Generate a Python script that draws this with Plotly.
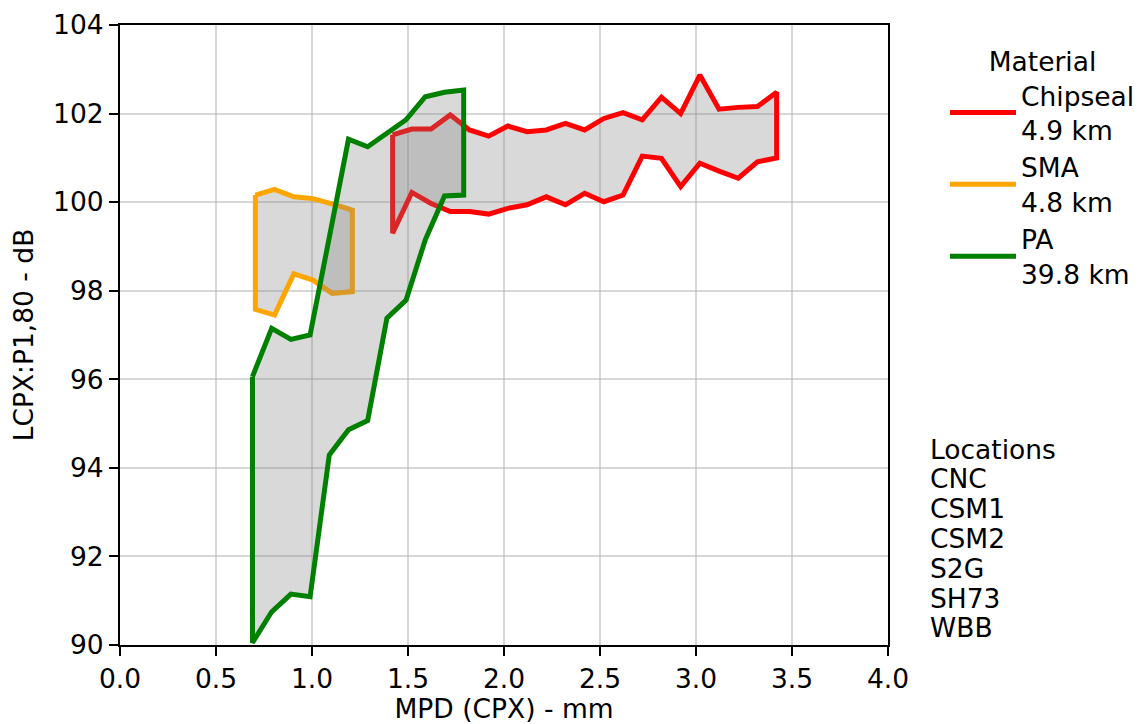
import plotly.graph_objects as go

# Texture depth (MPD) vs. CPX level envelopes per surface material
chip_x = [1.42, 1.52, 1.62, 1.72, 1.82, 1.92, 2.02, 2.12, 2.22, 2.32, 2.42,
          2.52, 2.62, 2.72, 2.82, 2.92, 3.02, 3.12, 3.22, 3.32, 3.42]
chip_upper = [101.52, 101.65, 101.65, 101.97, 101.63, 101.49, 101.72, 101.59,
              101.63, 101.78, 101.63, 101.89, 102.02, 101.86, 102.37, 102.00,
              102.87, 102.10, 102.14, 102.16, 102.48]
chip_lower = [99.30, 100.22, 99.97, 99.79, 99.79, 99.73, 99.86, 99.94,
              100.12, 99.94, 100.20, 100.01, 100.16, 101.04, 100.99, 100.35,
              100.88, 100.70, 100.54, 100.91, 101.00]

sma_x = [0.705, 0.805, 0.905, 1.005, 1.105, 1.21]
sma_upper = [100.16, 100.29, 100.12, 100.08, 99.96, 99.82]
sma_lower = [97.58, 97.45, 98.38, 98.24, 97.94, 97.98]

pa_x = [0.69, 0.79, 0.89, 0.99, 1.09, 1.19, 1.29, 1.39, 1.49, 1.59, 1.69, 1.79]
pa_upper = [96.06, 97.15, 96.90, 97.00, 99.20, 101.42, 101.25, 101.55,
            101.86, 102.38, 102.48, 102.53]
pa_lower = [90.05, 90.75, 91.15, 91.09, 94.29, 94.86, 95.07, 97.38,
            97.79, 99.15, 100.14, 100.16]

materials = ["Chipseal", "SMA", "PA"]
lengths_km = [4.9, 4.8, 39.8]
colors = ["#ff0000", "#ffa500", "#008000"]
locations = ["CNC", "CSM1", "CSM2", "S2G", "SH73", "WBB"]

series = [(chip_x, chip_upper, chip_lower),
          (sma_x, sma_upper, sma_lower),
          (pa_x, pa_upper, pa_lower)]

FONT = "DejaVu Sans"
FS = 26.5

# figure / plot-area geometry (px); the right-hand side is kept inside the
# paper so the legend never pushes the margin
W, H = 1142, 724
ML, MR, MT, MB = 120, 0, 25, 79
PLOT_RIGHT = 888
PAPER_W = W - ML - MR
PLOT_H = H - MT - MB
X_DOMAIN_END = (PLOT_RIGHT - ML) / PAPER_W


def paper_x(px):
    return (px - ML) / PAPER_W


def paper_y(py):
    return (H - MB - py) / PLOT_H


fig = go.Figure()

for name, km, col, (xs, up, lo) in zip(materials, lengths_km, colors, series):
    # closed envelope: upper edge left->right, lower edge right->left
    px = list(xs) + list(xs[::-1]) + [xs[0]]
    py = list(up) + list(lo[::-1]) + [up[0]]
    fig.add_trace(go.Scatter(
        x=px, y=py, mode="lines", fill="toself",
        fillcolor="rgba(128,128,128,0.3)",
        line=dict(color=col, width=5),
        showlegend=False, hoverinfo="skip",
    ))

for name, km, col in zip(materials, lengths_km, colors):
    fig.add_trace(go.Scatter(
        x=[None], y=[None], mode="lines",
        line=dict(color=col, width=5),
        name=f"{name}<br>{km} km",
    ))

# "Locations" text block beside the plot, one line per annotation
loc_lines = ["Locations"] + locations
LINE_PX = 29.8
first_line_px = 449
for i, txt in enumerate(loc_lines):
    fig.add_annotation(
        xref="paper", yref="paper", x=paper_x(928),
        y=paper_y(first_line_px + i * LINE_PX),
        xanchor="left", yanchor="middle", align="left", showarrow=False,
        text=txt, font=dict(family=FONT, size=FS, color="black"),
    )

axis_common = dict(
    showline=True, mirror=True, linecolor="black", linewidth=2,
    ticks="outside", ticklen=9, tickwidth=2, tickcolor="black",
    showgrid=True, gridcolor="rgba(176,176,176,0.5)", gridwidth=2,
    zeroline=False, automargin=False,
    tickfont=dict(family=FONT, size=FS, color="black"),
)

fig.update_layout(
    width=W, height=H,
    margin=dict(l=ML, r=MR, t=MT, b=MB),
    paper_bgcolor="white", plot_bgcolor="white",
    font=dict(family=FONT, size=FS, color="black"),
    xaxis=dict(domain=[0, X_DOMAIN_END],
               range=[0, 4], dtick=0.5, tick0=0, tickformat=".1f",
               title=dict(text="MPD (CPX) - mm", standoff=10,
                          font=dict(family=FONT, size=FS)),
               **axis_common),
    yaxis=dict(range=[90, 104], dtick=2, tick0=90,
               title=dict(text="LCPX:P1,80 - dB", standoff=12,
                          font=dict(family=FONT, size=FS)),
               **axis_common),
    legend=dict(
        x=paper_x(945), y=paper_y(37), xanchor="left", yanchor="top",
        title=dict(text="Material", side="top center",
                   font=dict(family=FONT, size=FS)),
        font=dict(family=FONT, size=FS),
        itemwidth=66,
        bgcolor="rgba(0,0,0,0)",
    ),
)

fig.write_html("out.html")
